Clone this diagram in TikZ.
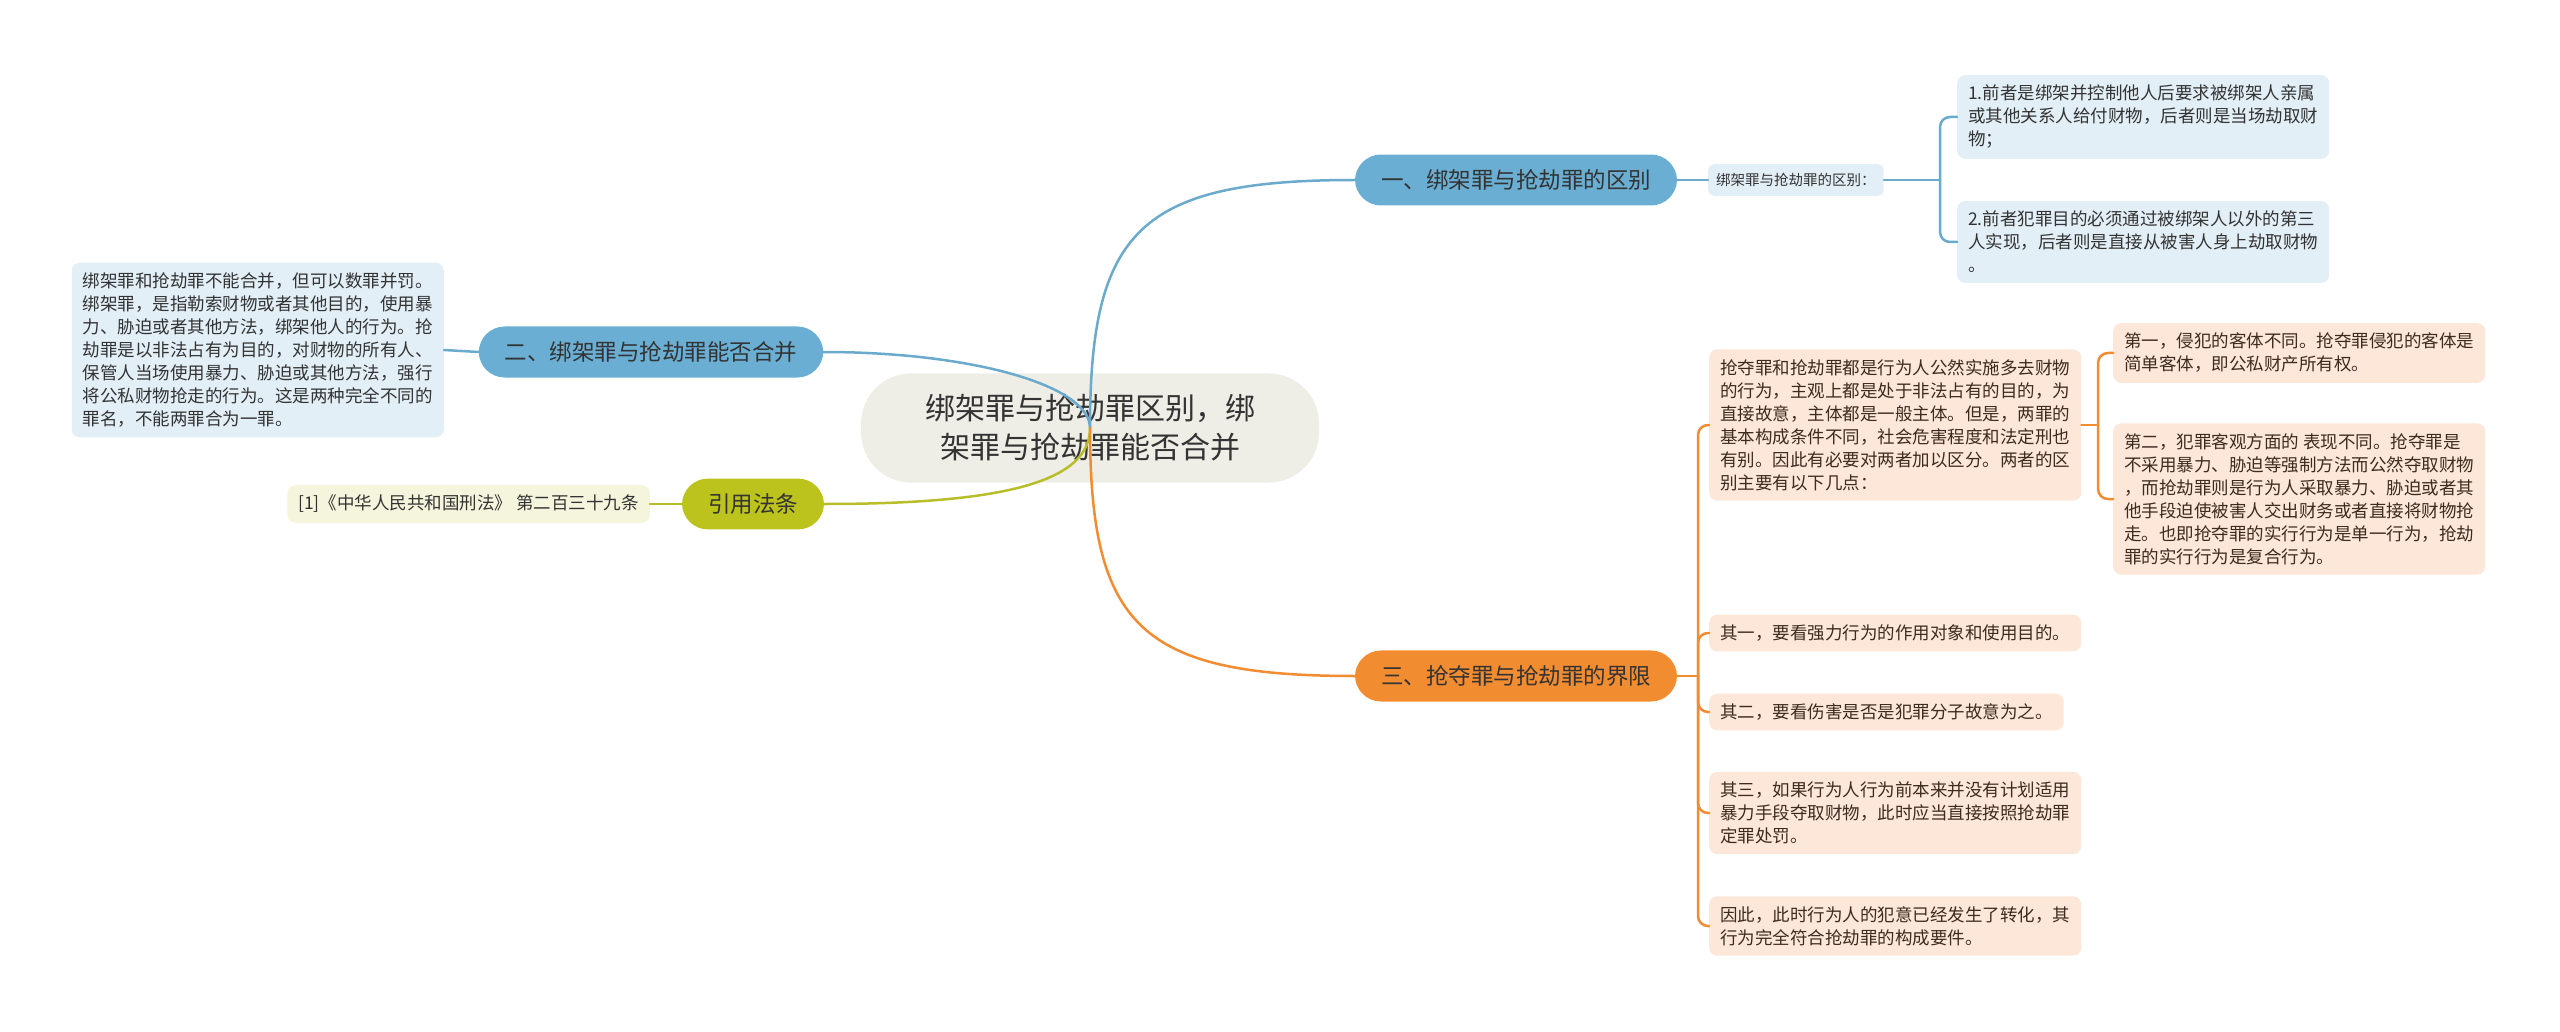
\documentclass[tikz,border=0pt]{standalone}
\usepackage{fontspec}
\setmainfont{Noto Sans CJK SC}
\definecolor{ctrfill}{HTML}{EEEEE6}
\definecolor{bluefill}{HTML}{6AAFD3}
\definecolor{blueline}{HTML}{6AAACC}
\definecolor{bluelite}{HTML}{E2EFF7}
\definecolor{orngfill}{HTML}{F28C30}
\definecolor{ornglite}{HTML}{FDE7D9}
\definecolor{olivfill}{HTML}{BCC31D}
\definecolor{olivline}{HTML}{B8BE2A}
\definecolor{olivlite}{HTML}{F4F5DC}
\definecolor{inkA}{HTML}{333333}
\definecolor{inkC}{HTML}{3D2B1F}
\tikzset{
  ctr/.style  ={fill=ctrfill,rounded corners=50pt,align=center,text=inkA,
                inner xsep=64pt,inner ysep=21pt,font=\fontsize{30}{39}\selectfont},
  br/.style   ={rounded corners=26pt,align=center,text=inkA,
                inner xsep=26pt,inner ysep=15pt,font=\fontsize{22.5}{28}\selectfont},
  brA/.style  ={br,fill=bluefill},
  brC/.style  ={br,fill=orngfill},
  brL/.style  ={br,fill=olivfill},
  lf/.style   ={rounded corners=8pt,align=left,inner xsep=11pt,inner ysep=10pt,
                font=\fontsize{17.5}{23}\selectfont},
  lfA/.style  ={lf,fill=bluelite,text=inkA},
  lfC/.style  ={lf,fill=ornglite,text=inkC},
  lfL/.style  ={lf,fill=olivlite,text=inkA},
  aln/.style  ={line width=2.5pt,draw=blueline,line cap=round},
  cln/.style  ={line width=2.5pt,draw=orngfill,line cap=round},
  lln/.style  ={line width=2.5pt,draw=olivline,line cap=round},
}
\begin{document}
\begin{tikzpicture}[x=1pt,y=-1pt]
  \useasboundingbox (0,0) rectangle (2560,1032);

  % ---------- center ----------
  \node[ctr] (ctr) at (1090,428) {绑架罪与抢劫罪区别，绑\\架罪与抢劫罪能否合并};

  % ---------- branch nodes ----------
  \node[brA] (b1) at (1516,180) {一、绑架罪与抢劫罪的区别};
  \node[brA] (b2) at (651,352) {二、绑架罪与抢劫罪能否合并};
  \node[brL] (b3) at (753,504) {引用法条};
  \node[brC] (b4) at (1516,676) {三、抢夺罪与抢劫罪的界限};

  % ---------- branch 1 ----------
  \node[lfA,font=\fontsize{14.5}{18}\selectfont,inner xsep=8pt,inner ysep=9pt,rounded corners=6pt,anchor=west]
    (s1) at (1708,180) {绑架罪与抢劫罪的区别：};
  \node[lfA,anchor=west] (l1a) at (1957,117)
    {1.前者是绑架并控制他人后要求被绑架人亲属\\或其他关系人给付财物，后者则是当场劫取财\\物；};
  \node[lfA,anchor=west] (l1b) at (1957,242)
    {2.前者犯罪目的必须通过被绑架人以外的第三\\人实现，后者则是直接从被害人身上劫取财物\\。};
  \coordinate (j1) at (1940,180);

  % ---------- branch 2 ----------
  \node[lfA,anchor=east] (l2) at (444,350)
    {绑架罪和抢劫罪不能合并，但可以数罪并罚。\\绑架罪，是指勒索财物或者其他目的，使用暴\\力、胁迫或者其他方法，绑架他人的行为。抢\\劫罪是以非法占有为目的，对财物的所有人、\\保管人当场使用暴力、胁迫或其他方法，强行\\将公私财物抢走的行为。这是两种完全不同的\\罪名，不能两罪合为一罪。};

  % ---------- branch 3 ----------
  \node[lfL,anchor=east] (l3) at (650,504) {[1]《中华人民共和国刑法》 第二百三十九条};

  % ---------- branch 4 ----------
  \node[lfC,anchor=west] (l4a) at (1709,425)
    {抢夺罪和抢劫罪都是行为人公然实施多去财物\\的行为，主观上都是处于非法占有的目的，为\\直接故意，主体都是一般主体。但是，两罪的\\基本构成条件不同，社会危害程度和法定刑也\\有别。因此有必要对两者加以区分。两者的区\\别主要有以下几点：};
  \node[lfC,anchor=west] (l4a1) at (2113,353)
    {第一，侵犯的客体不同。抢夺罪侵犯的客体是\\简单客体，即公私财产所有权。};
  \node[lfC,anchor=west] (l4a2) at (2113,499)
    {第二，犯罪客观方面的 表现不同。抢夺罪是\\不采用暴力、胁迫等强制方法而公然夺取财物\\，而抢劫罪则是行为人采取暴力、胁迫或者其\\他手段迫使被害人交出财务或者直接将财物抢\\走。也即抢夺罪的实行行为是单一行为，抢劫\\罪的实行行为是复合行为。};
  \node[lfC,anchor=west] (l4b) at (1709,633) {其一，要看强力行为的作用对象和使用目的。};
  \node[lfC,anchor=west] (l4c) at (1709,712) {其二，要看伤害是否是犯罪分子故意为之。};
  \node[lfC,anchor=west] (l4d) at (1709,813)
    {其三，如果行为人行为前本来并没有计划适用\\暴力手段夺取财物，此时应当直接按照抢劫罪\\定罪处罚。};
  \node[lfC,anchor=west] (l4e) at (1709,926)
    {因此，此时行为人的犯意已经发生了转化，其\\行为完全符合抢劫罪的构成要件。};
  \coordinate (j4) at (1698,676);
  \coordinate (j4a) at (2098,425);

  % ---------- connectors ----------
  \draw[aln] (ctr.center) .. controls (1090,230) and (1140,180) .. (b1.west);
  \draw[aln] (ctr.center) .. controls (1090,385) and (970,352) .. (b2.east);
  \draw[lln] (ctr.center) .. controls (1090,480) and (1010,504) .. (b3.east);
  \draw[cln] (ctr.center) .. controls (1090,626) and (1140,676) .. (b4.west);

  \draw[aln] (b1.east) -- (s1.west);
  \draw[aln] (s1.east) -- (j1);
  \draw[aln,rounded corners=10pt] (j1) |- (l1a.west);
  \draw[aln,rounded corners=10pt] (j1) |- (l1b.west);
  \draw[aln] (b2.west) -- (l2.east);
  \draw[lln] (b3.west) -- (l3.east);

  \draw[cln] (b4.east) -- (j4);
  \foreach \lf in {l4a,l4b,l4c,l4d,l4e}
    \draw[cln,rounded corners=10pt] (j4) |- (\lf.west);
  \draw[cln] (l4a.east) -- (j4a);
  \draw[cln,rounded corners=10pt] (j4a) |- (l4a1.west);
  \draw[cln,rounded corners=10pt] (j4a) |- (l4a2.west);

\end{tikzpicture}
\end{document}
